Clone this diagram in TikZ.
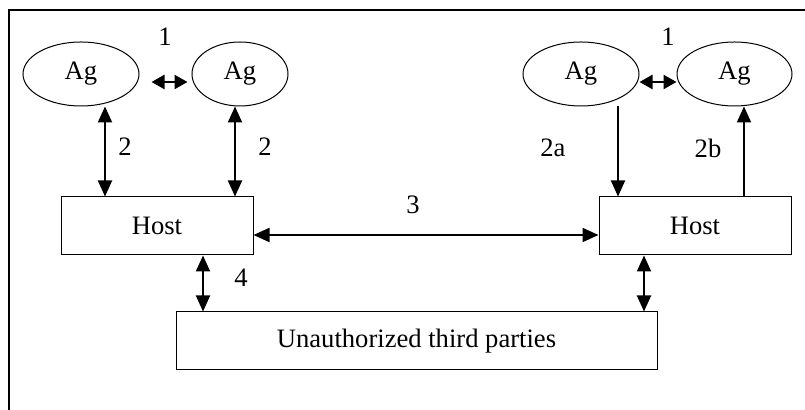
\documentclass[tikz,border=0pt]{standalone}
\usepackage{fontspec}
\setmainfont{Liberation Serif}
\usetikzlibrary{shapes.geometric,arrows.meta}

\begin{document}
\begin{tikzpicture}[x=0.5pt,y=-0.5pt,
  font=\fontsize{13.3}{16}\selectfont,
  ag/.style={draw,ellipse,line width=0.5pt,minimum height=32pt,inner sep=0pt},
  host/.style={draw,rectangle,line width=0.5pt,minimum height=29pt,inner sep=0pt},
  dbl/.style={{Triangle[length=8pt,width=7pt]}-{Triangle[length=8pt,width=7pt]},line width=1pt},
  sdbl/.style={{Triangle[length=6.5pt,width=7pt]}-{Triangle[length=6.5pt,width=7pt]},line width=1.2pt},
  one/.style={-{Triangle[length=8pt,width=7pt]},line width=1pt}]
  \useasboundingbox (0,0) rectangle (805,410);
  \draw[line width=0.6pt] (9,410) -- (9,10) -- (805,10);

  \node[ag,minimum width=58pt] (agA) at (81,74) {Ag};
  \node[ag,minimum width=48pt] (agB) at (240,74) {Ag};
  \node[ag,minimum width=58pt] (agC) at (581,74) {Ag};
  \node[ag,minimum width=57.5pt] (agD) at (734.5,74) {Ag};

  \node[host,minimum width=96pt] (hostA) at (157,226) {Host};
  \node[host,minimum width=96pt] (hostB) at (695,226) {Host};
  \node[host,minimum width=240.5pt] (third) at (416.5,341) {Unauthorized third parties};

  \node (l1a) at (165,37) {1};
  \node (l1b) at (668,37) {1};
  \node (l2a) at (125,147) {2};
  \node (l2b) at (265,147) {2};
  \node (l2c) at (553,148) {2a};
  \node (l2d) at (708,148) {2b};
  \node (l3) at (413,205) {3};
  \node (l4) at (241,278) {4};

  \draw[sdbl] ([xshift=6pt,yshift=-4pt]agA.east) -- ([xshift=-2pt,yshift=-4pt]agB.west);
  \draw[sdbl] ([yshift=-4pt]agC.east) -- ([yshift=-4pt]agD.west);

  \draw[dbl] ([xshift=12pt]agA.south) -- ([xshift=-26pt]hostA.north);
  \draw[dbl] ([xshift=-2.5pt]agB.south) -- ([xshift=39pt]hostA.north);
  \draw[one] ([xshift=18.5pt]agC.south) -- ([xshift=-38.5pt]hostB.north);
  \draw[one] ([xshift=24.5pt]hostB.north) -- ([xshift=4.75pt]agD.south);

  \draw[dbl] ([yshift=-4.5pt]hostA.east) -- ([yshift=-4.5pt]hostB.west);

  \draw[dbl] ([xshift=23pt]hostA.south) -- ([xshift=-106.75pt]third.north);
  \draw[dbl] ([xshift=-25.5pt]hostB.south) -- ([xshift=113.75pt]third.north);
\end{tikzpicture}
\end{document}
